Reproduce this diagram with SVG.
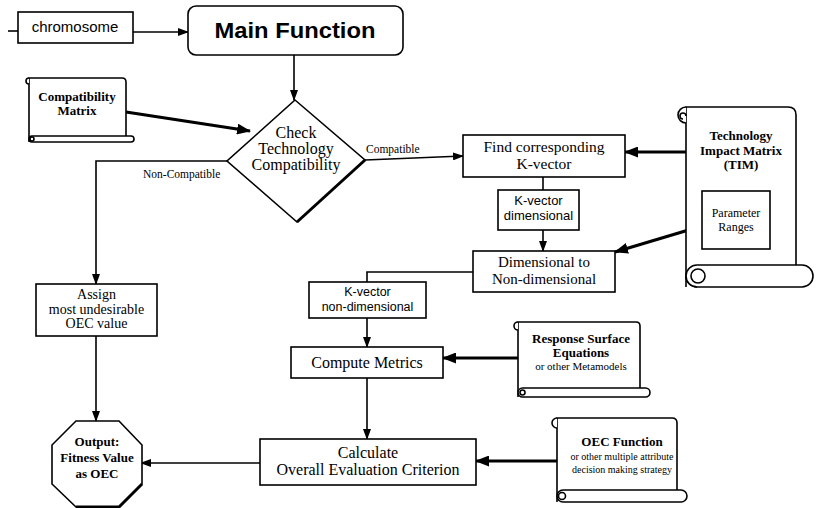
<svg xmlns="http://www.w3.org/2000/svg" width="817" height="508" viewBox="0 0 817 508">
<style>
.box{fill:#fff;stroke:#000;stroke-width:1.6}
.scr{fill:#fff;stroke:#000;stroke-width:1.6;stroke-linejoin:round}
.ln{fill:none;stroke:#000;stroke-width:1.6}
.th{fill:none;stroke:#000;stroke-width:3.2}
.sans{font-family:"Liberation Sans",Arial,sans-serif;fill:#000}
.serif{font-family:"Liberation Serif","Times New Roman",serif;fill:#000}
.b{font-weight:bold}
</style>
<defs>
<marker id="ah" viewBox="0 0 11 8" refX="10" refY="4" markerWidth="11" markerHeight="8" markerUnits="userSpaceOnUse" orient="auto"><path d="M0,0 L11,4 L0,8 z" fill="#000"/></marker>
<marker id="ahb" viewBox="0 0 14 11" refX="13" refY="5.5" markerWidth="14" markerHeight="11" markerUnits="userSpaceOnUse" orient="auto"><path d="M0,0 L14,5.5 L0,11 z" fill="#000"/></marker>
</defs>
<rect width="817" height="508" fill="#fff"/>

<g id="connectors">
<line class="ln" x1="8" y1="31" x2="18" y2="31"/>
<line class="ln" x1="133" y1="32" x2="188" y2="32" marker-end="url(#ah)"/>
<line class="ln" x1="294" y1="55" x2="294" y2="100" marker-end="url(#ah)"/>
<line class="th" x1="126" y1="112" x2="250" y2="131" marker-end="url(#ahb)"/>
<line class="ln" x1="365" y1="160" x2="463" y2="156" marker-end="url(#ah)"/>
<polyline class="ln" points="227,161 96,161 96,284" marker-end="url(#ah)"/>
<line class="ln" x1="96" y1="336" x2="96" y2="421" marker-end="url(#ah)"/>
<line class="th" x1="686" y1="152" x2="625" y2="152" marker-end="url(#ahb)"/>
<line class="ln" x1="543" y1="177" x2="543" y2="190"/>
<line class="ln" x1="543" y1="230" x2="543" y2="251" marker-end="url(#ah)"/>
<line class="th" x1="702" y1="226" x2="615" y2="252" marker-end="url(#ahb)"/>
<polyline class="ln" points="473,272 367,272 367,282"/>
<line class="ln" x1="367" y1="318" x2="367" y2="347" marker-end="url(#ah)"/>
<line class="th" x1="518" y1="358" x2="443" y2="358" marker-end="url(#ahb)"/>
<line class="ln" x1="367" y1="378" x2="367" y2="439" marker-end="url(#ah)"/>
<line class="th" x1="557" y1="461" x2="476" y2="461" marker-end="url(#ahb)"/>
<line class="ln" x1="260" y1="463" x2="141" y2="463" marker-end="url(#ah)"/>
<text class="serif" x="366" y="153" font-size="11.5">Compatible</text>
<text class="serif" x="143" y="178" font-size="11.5">Non-Compatible</text>
</g>

<g id="chromosome">
<rect class="box" x="18" y="12" width="115" height="31"/>
<text class="sans" x="75" y="32" font-size="15" text-anchor="middle">chromosome</text>
</g>

<g id="main-function">
<rect class="box" x="188" y="6" width="215" height="49" rx="8" stroke-width="2"/>
<text class="sans b" x="295" y="38" font-size="22" text-anchor="middle" textLength="161" lengthAdjust="spacingAndGlyphs">Main Function</text>
</g>

<g id="compatibility-matrix">
<path class="scr" d="M29,142 V78 H122 Q126,78 126,82 V136"/>
<path class="scr" d="M29,84 a3,3 0 1 1 0,-6"/>
<rect class="scr" x="29" y="136" width="105" height="6" rx="3"/>
<circle class="scr" cx="32" cy="139" r="2"/>
<text class="serif b" x="77" y="101" font-size="13" text-anchor="middle">Compatibility</text>
<text class="serif b" x="77" y="115" font-size="13" text-anchor="middle">Matrix</text>
</g>

<g id="check-compatibility">
<polygon class="box" points="295,100 365,160 297,222 227,161" stroke-width="2"/>
<line x1="365" y1="160" x2="297" y2="222" stroke="#000" stroke-width="3"/>
<text class="serif" x="296" y="138" font-size="16" text-anchor="middle">Check</text>
<text class="serif" x="296" y="154" font-size="16" text-anchor="middle">Technology</text>
<text class="serif" x="296" y="170" font-size="16" text-anchor="middle">Compatibility</text>
</g>

<g id="find-kvector">
<rect class="box" x="463" y="135" width="162" height="42"/>
<text class="serif" x="544" y="152" font-size="15.5" text-anchor="middle">Find corresponding</text>
<text class="serif" x="544" y="169" font-size="15.5" text-anchor="middle">K-vector</text>
</g>

<g id="tim">
<path class="scr" d="M686,287 V107 H788 Q796,107 796,115 V265"/>
<path class="scr" d="M686,123 a8,8 0 1 1 0,-16"/>
<path class="scr" d="M683,119 a3,3 0 1 1 3,-3"/>
<rect class="scr" x="686" y="265" width="127" height="22" rx="11"/>
<path class="scr" d="M686,276 a11,11 0 0 0 11,11"/>
<circle class="scr" cx="698" cy="276" r="7"/>
<text class="serif b" x="741" y="140" font-size="13" text-anchor="middle">Technology</text>
<text class="serif b" x="741" y="154.5" font-size="13" text-anchor="middle">Impact Matrix</text>
<text class="serif b" x="741" y="169" font-size="13" text-anchor="middle">(TIM)</text>
</g>

<g id="parameter-ranges">
<rect class="box" x="702" y="191" width="68" height="58"/>
<text class="serif" x="736" y="217" font-size="12" text-anchor="middle">Parameter</text>
<text class="serif" x="736" y="231" font-size="12" text-anchor="middle">Ranges</text>
</g>

<g id="kvector-dimensional">
<rect class="box" x="498" y="190" width="81" height="40"/>
<text class="sans" x="538.5" y="205" font-size="13" text-anchor="middle">K-vector</text>
<text class="sans" x="538.5" y="220" font-size="13" text-anchor="middle">dimensional</text>
</g>

<g id="dim-to-nondim">
<rect class="box" x="473" y="251" width="142" height="41"/>
<text class="serif" x="544" y="267" font-size="15" text-anchor="middle">Dimensional to</text>
<text class="serif" x="544" y="284" font-size="15" text-anchor="middle">Non-dimensional</text>
</g>

<g id="kvector-nondimensional">
<rect class="box" x="309" y="282" width="117" height="36"/>
<text class="sans" x="367.5" y="296" font-size="12.5" text-anchor="middle">K-vector</text>
<text class="sans" x="367.5" y="310.5" font-size="12.5" text-anchor="middle">non-dimensional</text>
</g>

<g id="compute-metrics">
<rect class="box" x="291" y="347" width="152" height="31"/>
<text class="serif" x="367" y="368" font-size="16" text-anchor="middle">Compute Metrics</text>
</g>

<g id="response-surface">
<path class="scr" d="M518,397 V322 H636 Q640,322 640,326 V388"/>
<path class="scr" d="M518,330 a4,4 0 1 1 0,-8"/>
<rect class="scr" x="518" y="388" width="132" height="9" rx="4.5"/>
<circle class="scr" cx="522.5" cy="392.5" r="2.5"/>
<text class="serif b" x="581" y="343" font-size="13" text-anchor="middle">Response Surface</text>
<text class="serif b" x="581" y="357" font-size="13" text-anchor="middle">Equations</text>
<text class="serif" x="581" y="370" font-size="11" text-anchor="middle">or other Metamodels</text>
</g>

<g id="oec-function">
<path class="scr" d="M557,502 V418 H672 Q677,418 677,423 V490"/>
<path class="scr" d="M557,428 a5,5 0 1 1 0,-10"/>
<rect class="scr" x="557" y="490" width="130" height="12" rx="6"/>
<circle class="scr" cx="562" cy="496" r="3.5"/>
<text class="serif b" x="622" y="446" font-size="13" text-anchor="middle">OEC Function</text>
<text class="serif" x="622" y="459.5" font-size="10" text-anchor="middle">or other multiple attribute</text>
<text class="serif" x="622" y="473" font-size="10" text-anchor="middle">decision making strategy</text>
</g>

<g id="calculate-oec">
<rect class="box" x="260" y="439" width="216" height="46"/>
<text class="serif" x="368" y="458" font-size="16" text-anchor="middle">Calculate</text>
<text class="serif" x="368" y="475" font-size="16" text-anchor="middle">Overall Evaluation Criterion</text>
</g>

<g id="assign-oec">
<rect class="box" x="36" y="284" width="121" height="52"/>
<text class="serif" x="96.5" y="299" font-size="14" text-anchor="middle">Assign</text>
<text class="serif" x="96.5" y="313.5" font-size="14" text-anchor="middle">most undesirable</text>
<text class="serif" x="96.5" y="328" font-size="14" text-anchor="middle">OEC value</text>
</g>

<g id="output">
<polygon class="box" points="76,421 119,421 142,445 142,484 119,507 76,507 52,484 52,445" stroke-width="2"/>
<polyline points="142,484 119,507 76,507" fill="none" stroke="#000" stroke-width="3"/>
<text class="serif b" x="97" y="446" font-size="13" text-anchor="middle">Output:</text>
<text class="serif b" x="97" y="462" font-size="13" text-anchor="middle">Fitness Value</text>
<text class="serif b" x="97" y="478" font-size="13" text-anchor="middle">as OEC</text>
</g>
</svg>
